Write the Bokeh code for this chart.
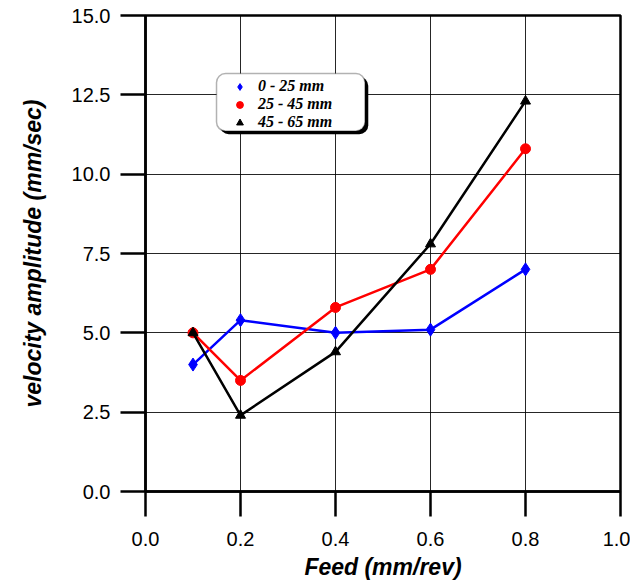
from bokeh.plotting import figure
from bokeh.models import Legend, LegendItem, BoxAnnotation, FixedTicker, NumeralTickFormatter, Range1d
from bokeh.embed import file_html
from bokeh.resources import INLINE

feed = [0.1, 0.2, 0.4, 0.6, 0.8]
v_0_25 = [4.0, 5.4, 5.0, 5.1, 7.0]
v_25_45 = [5.0, 3.5, 5.8, 7.0, 10.8]
v_45_65 = [5.0, 2.4, 4.4, 7.8, 12.3]
labels = ["0 - 25 mm", "25 - 45 mm", "45 - 65 mm"]
x_ticks = [0.0, 0.2, 0.4, 0.6, 0.8, 1.0]
y_ticks = [0.0, 2.5, 5.0, 7.5, 10.0, 12.5, 15.0]

p = figure(frame_width=475, frame_height=476, min_border_left=145, min_border_top=15,
           min_border_right=10, min_border_bottom=10,
           x_range=Range1d(0, 1), y_range=Range1d(0, 15),
           output_backend="svg", toolbar_location=None)

p.outline_line_color = "black"
p.outline_line_width = 2.5

for ax in (p.xaxis[0], p.yaxis[0]):
    ax.axis_line_width = 2.5
    ax.major_tick_line_width = 2.5
    ax.major_tick_out = 25
    ax.major_tick_in = 0
    ax.minor_tick_line_color = None
    ax.major_label_text_font = "Liberation Sans"
    ax.major_label_text_font_size = "20px"
    ax.major_label_text_color = "black"
    ax.axis_label_text_font = "Liberation Sans"
    ax.axis_label_text_font_style = "bold italic"
    ax.axis_label_text_font_size = "23px"
    ax.axis_label_text_color = "black"
    ax.formatter = NumeralTickFormatter(format="0.0")

p.xaxis[0].ticker = FixedTicker(ticks=x_ticks)
p.yaxis[0].ticker = FixedTicker(ticks=y_ticks)
p.xaxis[0].axis_label = "Feed (mm/rev)"
p.yaxis[0].axis_label = "velocity amplitude (mm/sec)"
p.xaxis[0].major_label_standoff = 15
p.yaxis[0].major_label_standoff = 10
p.xaxis[0].axis_label_standoff = 5
p.yaxis[0].axis_label_standoff = 23

for g in (p.xgrid[0], p.ygrid[0]):
    g.grid_line_color = "black"
    g.grid_line_width = 1
    g.grid_line_alpha = 0.85
p.xgrid[0].ticker = FixedTicker(ticks=x_ticks)
p.ygrid[0].ticker = FixedTicker(ticks=y_ticks)

lw = 2.5
p.line(feed, v_0_25, line_color="blue", line_width=lw)
s1 = p.scatter(feed, v_0_25, marker="diamond", size=13, color="blue")
p.line(feed, v_25_45, line_color="red", line_width=lw)
s2 = p.scatter(feed, v_25_45, marker="circle", size=10, color="red")
p.line(feed, v_45_65, line_color="black", line_width=lw)
s3 = p.scatter(feed, v_45_65, marker="triangle", size=10, color="black")

shadow = BoxAnnotation(left=0.1495 + 0.007, right=0.462 + 0.007, top=13.17 - 0.1, bottom=11.36 - 0.1,
                       fill_color="black", fill_alpha=1, line_color=None, border_radius=9)
box = BoxAnnotation(left=0.1495, right=0.462, top=13.17, bottom=11.36,
                    fill_color="white", fill_alpha=1, line_color="black", line_width=1.5,
                    border_radius=9)
p.add_layout(shadow)
p.add_layout(box)

legend = Legend(items=[LegendItem(label=labels[0], renderers=[s1]),
                       LegendItem(label=labels[1], renderers=[s2]),
                       LegendItem(label=labels[2], renderers=[s3])],
                location=(78, 352), background_fill_alpha=0, border_line_alpha=0,
                label_text_font="Liberation Serif", label_text_font_style="bold italic",
                label_text_font_size="16px", label_text_color="black",
                glyph_height=17, glyph_width=17,
                label_height=17, spacing=0, padding=8, margin=0, label_standoff=10)
p.add_layout(legend)

open("out.html", "w").write(file_html(p, INLINE))
